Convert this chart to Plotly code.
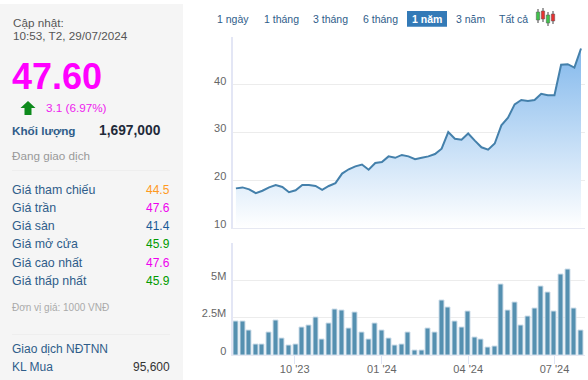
import plotly.graph_objects as go

dates = ["2023-07-31","2023-08-07","2023-08-14","2023-08-21","2023-08-28","2023-09-04","2023-09-11","2023-09-18","2023-09-25",
"2023-10-02","2023-10-09","2023-10-16","2023-10-23","2023-10-30","2023-11-06","2023-11-13","2023-11-20","2023-11-27",
"2023-12-04","2023-12-11","2023-12-18","2023-12-25","2024-01-01","2024-01-08","2024-01-15","2024-01-22","2024-01-29",
"2024-02-05","2024-02-12","2024-02-19","2024-02-26","2024-03-04","2024-03-11","2024-03-18","2024-03-25","2024-04-01",
"2024-04-08","2024-04-15","2024-04-22","2024-04-29","2024-05-06","2024-05-13","2024-05-20","2024-05-27","2024-06-03",
"2024-06-10","2024-06-17","2024-06-24","2024-07-01","2024-07-08","2024-07-15","2024-07-22","2024-07-29"]
prices = [18.3,18.5,18.1,17.3,17.8,18.5,19.0,18.6,17.5,17.9,19.0,19.0,18.8,18.0,18.8,19.4,21.4,22.3,22.9,23.3,22.2,23.6,23.8,25.0,
24.7,25.3,25.0,24.4,24.7,25.0,25.5,26.6,30.1,28.7,28.5,29.8,28.3,26.9,26.4,27.7,31.5,33.1,35.9,36.8,36.6,36.8,38.1,37.8,37.8,44.2,44.3,43.6,47.6]
volumes = [2.24,2.24,1.64,0.69,0.73,1.53,2.31,1.11,0.62,0.69,1.82,2.0,2.49,1.04,2.13,3.02,2.96,1.78,2.84,1.47,1.04,2.13,1.64,1.11,
0.62,0.73,1.53,0.33,0.33,1.78,1.47,3.62,3.2,2.24,1.82,2.91,1.16,1.04,0.51,0.56,4.71,2.96,3.51,1.96,2.6,3.09,4.58,4.18,2.91,5.36,5.71,3.13,1.64]
price_ticks = [10,20,30,40,50]
price_labels = ["10","20","30","40",""]
vol_ticks = [0,2.5,5,7.5]
vol_labels = ["0","2.5M","5M",""]
buttons = [("1 ngày",232.7),("1 tháng",281),("3 tháng",330),("6 tháng",380),("1 năm",427),("3 năm",470),("Tất cả",513)]
rows = [("Giá tham chiếu","44.5","#ff9a1f",189.5),("Giá trần","47.6","#ee00ee",207.5),("Giá sàn","41.4","#1a5a96",226),
("Giá mở cửa","45.9","#009a00",244.5),("Giá cao nhất","47.6","#ee00ee",263),("Giá thấp nhất","45.9","#009a00",281)]

W, H = 588, 380
FONT = "Liberation Sans, Arial, sans-serif"
BLUE = "#2f5d8a"
def px(x): return x / W
def py(y): return 1 - y / H

fig = go.Figure()
fig.add_trace(go.Scatter(x=dates, y=prices, mode="lines", line=dict(color="#4480ab", width=2),
    fill="tozeroy", fillgradient=dict(type="vertical", start=48, stop=10,
        colorscale=[[0,"#82b8ec"],[1,"#ffffff"]]), xaxis="x", yaxis="y", hoverinfo="skip"))
fig.add_trace(go.Bar(x=dates, y=volumes, width=5.0*7/6.65*86400000, marker=dict(color="#5590b0", line=dict(color="#cfdeea", width=1)),
    xaxis="x2", yaxis="y2", hoverinfo="skip"))

shapes, ann = [], []
def txt(x, y, s, size=12, color=BLUE, anchor="left", bold=False):
    ann.append(dict(x=px(x), y=py(y), xref="paper", yref="paper", text=f"<b>{s}</b>" if bold else s, showarrow=False,
        xanchor=anchor, yanchor="middle", align=anchor, font=dict(family=FONT, size=size, color=color),
        borderpad=0, borderwidth=0))
def rect(x0, y0, x1, y1, fill, layer="below"):
    shapes.append(dict(type="rect", xref="paper", yref="paper", x0=px(x0), x1=px(x1), y0=py(y0), y1=py(y1),
        fillcolor=fill, line=dict(width=0), layer=layer))
def hline(x0, x1, y, color):
    shapes.append(dict(type="line", xref="paper", yref="paper", x0=px(x0), x1=px(x1), y0=py(y), y1=py(y), line=dict(color=color, width=1), layer="below"))

rect(0, 4, 183, 380, "#f5f5f5")
txt(13, 23, "Cập nhật:", 11.7, "#555555")
txt(13, 36, "10:53, T2, 29/07/2024", 11.7, "#555555")
txt(12, 77, "47.60", 36, "#ff00ff", bold=True)
txt(46, 107.5, "3.1 (6.97%)", 11.7, "#ee22ee")
txt(12, 130.5, "Khối lượng", 11.7, BLUE, bold=True)
txt(161, 130.5, "1,697,000", 13.8, "#1f2a3a", "right", bold=True)
txt(12, 155, "Đang giao dịch", 11.7, "#999999")
hline(12, 170, 170.5, "#eeeeee")
for name, val, col, y in rows:
    txt(12, y, name, 12.4, BLUE)
    txt(169.5, y, val, 12, col, "right")
txt(12, 307.5, "Đơn vị giá: 1000 VNĐ", 10, "#aaaaaa")
hline(12, 170, 334.5, "#eeeeee")
txt(12, 348.5, "Giao dịch NĐTNN", 12, BLUE)
txt(12, 367, "KL Mua", 12, BLUE)
txt(169.5, 367, "95,600", 12, "#333333", "right")

# arrow
ax = [(28,101),(35.5,108),(31.5,108),(31.5,115),(24.5,115),(24.5,108),(20.5,108)]
path = "M" + " L".join(f"{px(a):.5f},{py(b):.5f}" for a,b in ax) + " Z"
shapes.append(dict(type="path", xref="paper", yref="paper", path=path, fillcolor="#0d8a1c", line=dict(width=0)))

# range buttons
shapes.append(dict(type="rect", xref="paper", yref="paper", x0=px(407), x1=px(447), y0=py(11), y1=py(26.7), fillcolor="#337ab7", line=dict(width=0)))
for label, x in buttons:
    sel = label == "1 năm"
    txt(x, 19, label, 10.5, "#ffffff" if sel else BLUE, "center", bold=sel)

# candle icon
for cx, t, b, wt, wb, c in [(538,12,20,9,23,"#3fc24a"),(543,11,19,8,22,"#e83030"),(548,15,23,12,26,"#3fc24a"),(553,14,21,11,24,"#e83030")]:
    shapes.append(dict(type="line", xref="paper", yref="paper", x0=px(cx), x1=px(cx), y0=py(wt), y1=py(wb), line=dict(color="#444444", width=1)))
    shapes.append(dict(type="rect", xref="paper", yref="paper", x0=px(cx-1.7), x1=px(cx+1.7), y0=py(t), y1=py(b), fillcolor=c, line=dict(color="#555555", width=0.5)))

xr = ["2023-07-27 10:00", "2024-08-02 05:00"]
dom = [px(232.5), px(585)]
common_x = dict(range=xr, domain=dom, type="date", showgrid=False, zeroline=False, showline=True, linecolor="#e6e8f2", linewidth=1)
common_y = dict(showgrid=True, gridcolor="#ececec", gridwidth=1, zeroline=False, showline=True, linecolor="#e3e6f5", linewidth=2,
    ticks="", tickfont=dict(family=FONT, size=11, color="#666666"), ticklabelposition="outside", ticklabelstandoff=2, ticklabelshift=-4)
fig.update_layout(
    width=W, height=H, margin=dict(l=0, r=0, t=0, b=0, autoexpand=False), paper_bgcolor="#ffffff", plot_bgcolor="#ffffff", showlegend=False,
    xaxis=dict(common_x, anchor="y", showticklabels=False, ticks=""),
    xaxis2=dict(common_x, anchor="y2", tick0="2023-10-01", dtick="M3", tickformat="%m '%y", ticks="outside", ticklen=8, tickcolor="#dfe5f5",
        ticklabelstandoff=-4, tickfont=dict(family=FONT, size=11, color="#666666")),
    yaxis=dict(common_y, domain=[py(228), py(37)], range=[10,50], tickvals=price_ticks, ticktext=price_labels, anchor="x"),
    yaxis2=dict(common_y, domain=[py(355), py(242.5)], range=[0,7.5], tickvals=vol_ticks, ticktext=vol_labels, anchor="x2"),
    shapes=shapes, annotations=ann, bargap=0,
)
fig.write_html("out.html", config=dict(displayModeBar=False),
    post_script="document.body.style.margin='0';document.documentElement.style.overflow='hidden';")
